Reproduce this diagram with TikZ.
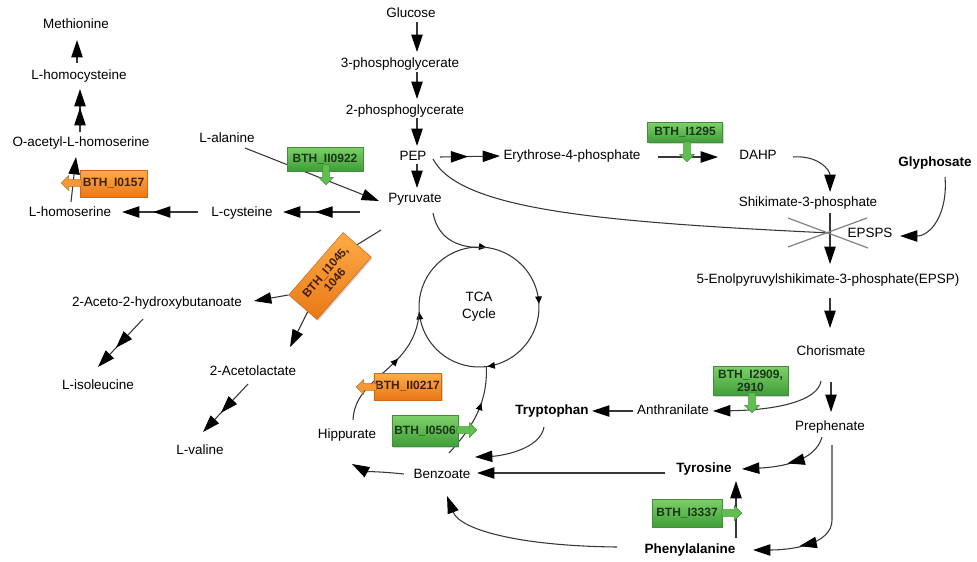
\documentclass[tikz,border=0pt]{standalone}
\usepackage{fontspec}
\setmainfont{Liberation Sans}
\usetikzlibrary{arrows.meta,calc,decorations.markings,shapes.arrows,shadows}
\definecolor{gtop}{RGB}{125,208,105}
\definecolor{gbot}{RGB}{62,158,55}
\definecolor{gedge}{RGB}{70,140,60}
\definecolor{gtext}{RGB}{25,55,25}
\definecolor{garr}{RGB}{95,192,78}
\definecolor{otop}{RGB}{252,172,72}
\definecolor{obot}{RGB}{234,120,22}
\definecolor{oedge}{RGB}{205,105,25}
\definecolor{otext}{RGB}{65,32,5}
\definecolor{oarr}{RGB}{247,152,52}
\definecolor{lncol}{RGB}{55,55,55}
\begin{document}
\begin{tikzpicture}[x=0.75pt,y=-0.75pt,
  lbl/.style={font=\fontsize{10.1}{12}\selectfont, inner sep=0pt, text height=7.5pt, text depth=2pt},
  blbl/.style={lbl, font=\fontsize{10.1}{12}\selectfont\bfseries},
  conn/.style={draw=lncol, line width=0.8pt},
  arr/.style={conn, -{Triangle[length=13pt,width=8.5pt,color=black]}},
  midtip/.style={postaction={decorate}, decoration={markings, mark=at position #1 with {\arrow{Triangle[length=13pt,width=8.5pt,color=black]}}}},
  smidtip/.style={postaction={decorate}, decoration={markings, mark=at position #1 with {\arrow{Triangle[length=5.5pt,width=5pt,color=black]}}}},
  circtips/.style={postaction={decorate}, decoration={markings,
     mark=at position 0.042 with {\arrow{Triangle[length=5.5pt,width=5pt,color=black]}},
     mark=at position 0.325 with {\arrow{Triangle[length=5.5pt,width=5pt,color=black]}},
     mark=at position 0.547 with {\arrow{Triangle[length=5.5pt,width=5pt,color=black]}},
     mark=at position 0.783 with {\arrow{Triangle[length=5.5pt,width=5pt,color=black]}}}},
  xline/.style={draw=black!50, line width=0.9pt},
  gbox/.style={draw=gedge, top color=gtop, bottom color=gbot, text=gtext, font=\fontsize{9}{9.6}\selectfont\bfseries, inner sep=1pt, align=center, drop shadow={opacity=0.35,shadow xshift=1pt,shadow yshift=-1pt}},
  obox/.style={gbox, draw=oedge, top color=otop, bottom color=obot, text=otext},
  enz/.style={single arrow, draw=#1!75!black, fill=#1, minimum height=15pt, inner sep=2.4pt, single arrow head extend=3pt, line width=0.4pt},
]
\useasboundingbox (0,0) rectangle (977,561);

% ---------- labels ----------
\node[lbl] (glu) at (411,14) {Glucose};
\node[lbl] (pg3) at (400,64) {3-phosphoglycerate};
\node[lbl] (pg2) at (405,111) {2-phosphoglycerate};
\node[lbl] (pep) at (413,157) {PEP};
\node[lbl] (pyr) at (415,199) {Pyruvate};
\node[lbl] (e4p) at (572,156) {Erythrose-4-phosphate};
\node[lbl] (dahp) at (758,156) {DAHP};
\node[blbl] (gly) at (935,163) {Glyphosate};
\node[lbl] (s3p) at (808,203) {Shikimate-3-phosphate};
\node[lbl] (epsps) at (870,234) {EPSPS};
\node[lbl] (epsp) at (828,280) {5-Enolpyruvylshikimate-3-phosphate(EPSP)};
\node[lbl] (cho) at (831,352) {Chorismate};
\node[lbl] (pre) at (830,427) {Prephenate};
\node[lbl] (ant) at (673,411) {Anthranilate};
\node[blbl] (trp) at (552,411) {Tryptophan};
\node[blbl] (tyr) at (704,469) {Tyrosine};
\node[blbl] (phe) at (690,550) {Phenylalanine};
\node[lbl] (benz) at (442,475) {Benzoate};
\node[lbl] (hip) at (347,435) {Hippurate};
\node[lbl] (ala) at (227,139) {L-alanine};
\node[lbl] (cys) at (242,213) {L-cysteine};
\node[lbl] (hser) at (70,213) {L-homoserine};
\node[lbl] (oah) at (81,143) {O-acetyl-L-homoserine};
\node[lbl] (hcys) at (79,76) {L-homocysteine};
\node[lbl] (met) at (76,25) {Methionine};
\node[lbl] (ahb) at (157,303) {2-Aceto-2-hydroxybutanoate};
\node[lbl] (ile) at (98,386) {L-isoleucine};
\node[lbl] (acl) at (253,372) {2-Acetolactate};
\node[lbl] (val) at (200,451) {L-valine};
\node[circle, minimum size=90pt, inner sep=0pt, outer sep=0pt, align=center,
      font=\fontsize{10.1}{12.7}\selectfont] (tca) at (479,307) {TCA\\Cycle};
\coordinate (xing) at (830,233);

% ---------- connectors ----------
\draw[arr] ($(glu)+(6,8)$) -- ($(pg3)+(17,-12)$);
\draw[arr] ($(pg3)+(17,8)$) -- ($(pg2)+(12,-12)$);
\draw[arr] ($(pg2)+(12,7)$) -- ($(pep)+(4,-11)$);
\draw[arr] ($(pep)+(4,7)$) -- ($(pyr)+(2,-11)$);
\draw[arr, midtip=0.47] ($(pep)+(27,0)$) -- ($(e4p)+(-72,0)$);
\draw[arr] ($(e4p)+(86,1)$) -- ($(dahp)+(-40,1)$);
\draw[arr] ($(dahp)+(35,1)$) .. controls (818,155) and (830,170) .. ($(s3p)+(22,-11)$);
\draw[arr] ($(gly)+(10,14)$) .. controls (948,215) and (930,236) .. ($(epsps)+(30,2)$);
\draw[arr] ($(s3p)+(22,10)$) -- ($(epsp)+(2,-16)$);
\draw[conn] ($(pep)+(20,2)$) .. controls (460,210) and (600,222) .. (xing);
\draw[xline] ($(xing)+(-42,-15)$) -- ($(xing)+(38,15)$);
\draw[xline] ($(xing)+(-42,14)$) -- ($(xing)+(37,-15)$);
\draw[arr] ($(epsp)+(2,18)$) -- ($(cho)+(-1,-24)$);
\draw[arr] ($(cho)+(0,30)$) -- ($(pre)+(1,-15)$);
\draw[arr] ($(cho)+(-10,29)$) .. controls (818,400) and (780,410) .. ($(ant)+(40,0)$);
\draw[arr] ($(ant)+(-40,0)$) -- ($(trp)+(40,0)$);
\draw[arr] ($(trp)+(-8,16)$) .. controls (540,450) and (500,456) .. ($(benz)+(33,-18)$);
\draw[arr] ($(tyr)+(-39,4)$) -- ($(benz)+(35,-2)$);
\draw[arr] ($(phe)+(-73,-3)$) .. controls (520,546) and (460,530) .. ($(benz)+(5,21)$);
\draw[arr] ($(benz)+(-38,-1)$) .. controls (385,472) and (365,471) .. ($(hip)+(5,29)$);
\draw[arr, midtip=0.5] ($(pre)+(-8,10)$) .. controls (815,462) and (780,467) .. ($(tyr)+(38,0)$);
\draw[arr, midtip=0.72] ($(pre)+(2,18)$) -- (832,520) .. controls (832,545) and (790,550) .. ($(phe)+(63,0)$);
\draw[arr] ($(phe)+(46,-12)$) -- ($(tyr)+(32,12)$);
\draw[arr, midtip=0.58] ($(pyr)+(-55,13)$) -- ($(cys)+(41,-1)$);
\draw[arr, midtip=0.59] ($(cys)+(-44,-1)$) -- ($(hser)+(52,-1)$);
\draw[arr] ($(hser)+(1,-11)$) -- ($(oah)+(-5,14)$);
\draw[arr, midtip=0.56] ($(oah)+(-1,-11)$) -- ($(hcys)+(1,13)$);
\draw[arr] ($(hcys)+(-2,-13)$) -- ($(met)+(1,15)$);
\draw[arr] ($(ala)+(18,9)$) -- ($(pyr)+(-36,2)$);
\draw[arr, midtip=0.6] ($(ahb)+(-14,16)$) -- ($(ile)+(0,-19)$);
\draw[arr, midtip=0.6] ($(acl)+(-5,12)$) -- ($(val)+(3,-19)$);
% TCA cycle
\draw[conn, circtips] (tca.200) arc[start angle=160, end angle=520, radius=60];
\draw[conn] ($(pyr)+(18,14)$) .. controls (438,240) and (460,249) .. (tca.83);
\draw[conn, smidtip=0.6] ($(hip)+(6,-15)$) .. controls (355,375) and (415,370) .. (tca.185);
\draw[conn, smidtip=0.62] ($(benz)+(7,-22)$) .. controls (470,430) and (488,405) .. (tca.-83);

% ---------- enzyme boxes ----------
\node[obox, rotate=49, minimum width=62pt, minimum height=28pt, font=\fontsize{8.8}{9.4}\selectfont\bfseries] (o1045) at (330,276) {BTH\_I1045,\\1046};
\draw[conn] ($(pyr)+(-34,31)$) -- (o1045.east);
\draw[arr] (o1045.north west) -- ($(ahb)+(97,-2)$);
\draw[arr] ($(o1045.west)!0.35!(o1045.south west)$) -- ($(acl)+(37,-25)$);

\node[gbox, minimum width=57pt, minimum height=18pt] (g0922) at (325,159) {BTH\_II0922};
\node[obox, minimum width=50pt, minimum height=20pt] (o0157) at (113.5,183.5) {BTH\_I0157};
\node[gbox, minimum width=56pt, minimum height=15pt] (g1295) at (685,132.5) {BTH\_I1295};
\node[gbox, minimum width=56pt, minimum height=22pt] (g2909) at (750.5,381) {BTH\_I2909,\\2910};
\node[obox, minimum width=50pt, minimum height=20pt] (o0217) at (407.5,386.5) {BTH\_II0217};
\node[gbox, minimum width=49.5pt, minimum height=23pt] (g0506) at (425,431) {BTH\_I0506};
\node[gbox, minimum width=52.5pt, minimum height=21pt] (g3337) at (687,513) {BTH\_I3337};

\node[enz=garr, rotate=-90] (a0922) at (326,173) {};
\node[enz=oarr, rotate=180] (a0157) at (73,183) {};
\node[enz=garr, rotate=-90] (a1295) at (687,150) {};
\node[enz=garr, rotate=-90] (a2909) at (752,401) {};
\node[enz=oarr, rotate=180] (a0217) at (368,387) {};
\node[enz=garr] (a0506) at (465,430) {};
\node[enz=garr] (a3337) at (730,513) {};
\end{tikzpicture}
\end{document}
